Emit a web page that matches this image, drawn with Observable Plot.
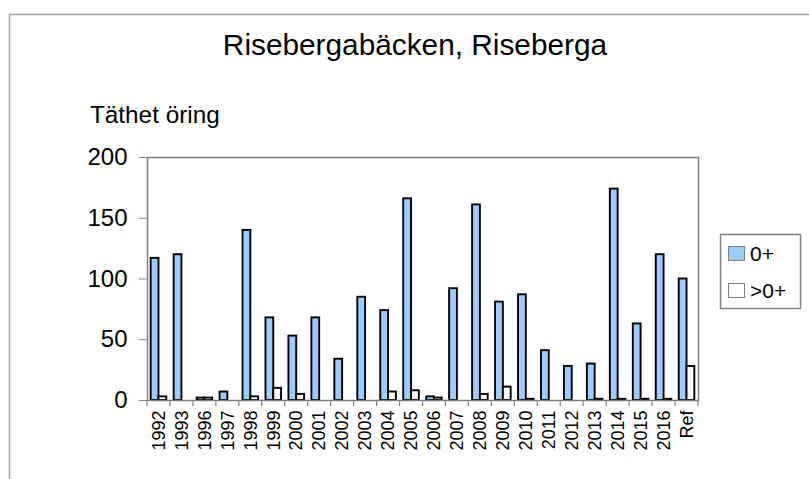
<!DOCTYPE html>
<html>
<head>
<meta charset="utf-8">
<script src="https://cdn.jsdelivr.net/npm/d3@7"></script>
<script src="https://cdn.jsdelivr.net/npm/@observablehq/plot@0.6"></script>
<style>
  html, body { margin: 0; padding: 0; background: #fff; }
  svg { font-family: "Liberation Sans", Arial, sans-serif; }
</style>
</head>
<body>
<div id="chart"></div>
<script>
const categories = ["1992","1993","1996","1997","1998","1999","2000","2001","2002","2003","2004","2005","2006","2007","2008","2009","2010","2011","2012","2013","2014","2015","2016","Ref"];
const young = [117,120,2,7,140,68,53,68,34,85,74,166,3,92,161,81,87,41,28,30,174,63,120,100];
const older = [3,0,2,0,3,10,5,0,0,0,7,8,2,0,5,11,1,0,0,1,1,1,1,28];
const yTicks = [0,50,100,150,200];
const seriesNames = ["0+", ">0+"];
const seriesFill = ["#99ccff", "#ffffff"];

const W = 809, H = 479;
const mL = 147, mR = 111, mT = 157, mB = 79;
const band = (W - mL - mR) / categories.length;
const gap = band * 0.16;
const barW = (band - 2 * gap) / 2;

const rows = categories.map((c, i) => ({cat: c, young: young[i], older: older[i]}));

const plot = Plot.plot({
  width: W, height: H,
  marginLeft: mL, marginRight: mR, marginTop: mT, marginBottom: mB,
  style: {fontFamily: '"Liberation Sans", Arial, sans-serif', color: "#000", background: "transparent"},
  x: {domain: categories, padding: 0, round: false, label: null},
  y: {domain: [0, 200], label: null},
  marks: [
    Plot.barY(rows, {x: "cat", y: "young", fill: seriesFill[0], stroke: "#000", strokeWidth: 1.9,
      insetLeft: gap, insetRight: gap + barW}),
    Plot.barY(rows, {x: "cat", y: "older", fill: seriesFill[1], stroke: "#000", strokeWidth: 1.9,
      insetLeft: gap + barW, insetRight: gap}),
    Plot.frame({stroke: "#808080", strokeWidth: 1.5}),
    Plot.axisY({ticks: yTicks, tickSize: 8, tickPadding: 12, fontSize: 24, stroke: "#808080", fill: "#000", tickFormat: d => String(d)}),
    Plot.axisX({tickSize: 0, tickPadding: 10, tickRotate: -90, fontSize: 18, fill: "#000"})
  ]
});

document.getElementById("chart").appendChild(plot);
const svg = d3.select(plot);
const xs = plot.scale("x");
const ys = plot.scale("y");

// Category boundary ticks below the x axis
const y0 = ys.apply(0);
const bounds = categories.map(c => xs.apply(c)).concat([xs.apply(categories[categories.length - 1]) + band]);
svg.append("g").selectAll("line").data(bounds).join("line")
  .attr("x1", d => d).attr("x2", d => d)
  .attr("y1", y0).attr("y2", y0 + 6)
  .attr("stroke", "#808080").attr("stroke-width", 1.2);

// Outer chart border (left & top)
svg.append("path")
  .attr("d", `M9.5,${H} L9.5,14.5 L${W},14.5`)
  .attr("fill", "none").attr("stroke", "#a0a0a0").attr("stroke-width", 1.5);

// Title
svg.append("text")
  .attr("x", 415).attr("y", 55)
  .attr("text-anchor", "middle")
  .attr("font-size", 29.8)
  .attr("fill", "#000")
  .text("Risebergabäcken, Riseberga");

// Y label
svg.append("text")
  .attr("x", 90).attr("y", 123)
  .attr("text-anchor", "start")
  .attr("font-size", 24.3)
  .attr("fill", "#000")
  .text("Täthet öring");

// Legend
const lg = svg.append("g");
lg.append("rect").attr("x", 720.5).attr("y", 234.5).attr("width", 80).attr("height", 74)
  .attr("fill", "#fff").attr("stroke", "#808080").attr("stroke-width", 1.5);
seriesNames.forEach((name, i) => {
  const yy = 246 + i * 37;
  lg.append("rect").attr("x", 728.5).attr("y", yy + 0.5).attr("width", 16).attr("height", 14)
    .attr("fill", seriesFill[i]).attr("stroke", "#808080").attr("stroke-width", 1);
  lg.append("text").attr("x", 750).attr("y", yy + 15).attr("text-anchor", "start")
    .attr("font-size", 21).attr("fill", "#000").text(name);
});
</script>
</body>
</html>
